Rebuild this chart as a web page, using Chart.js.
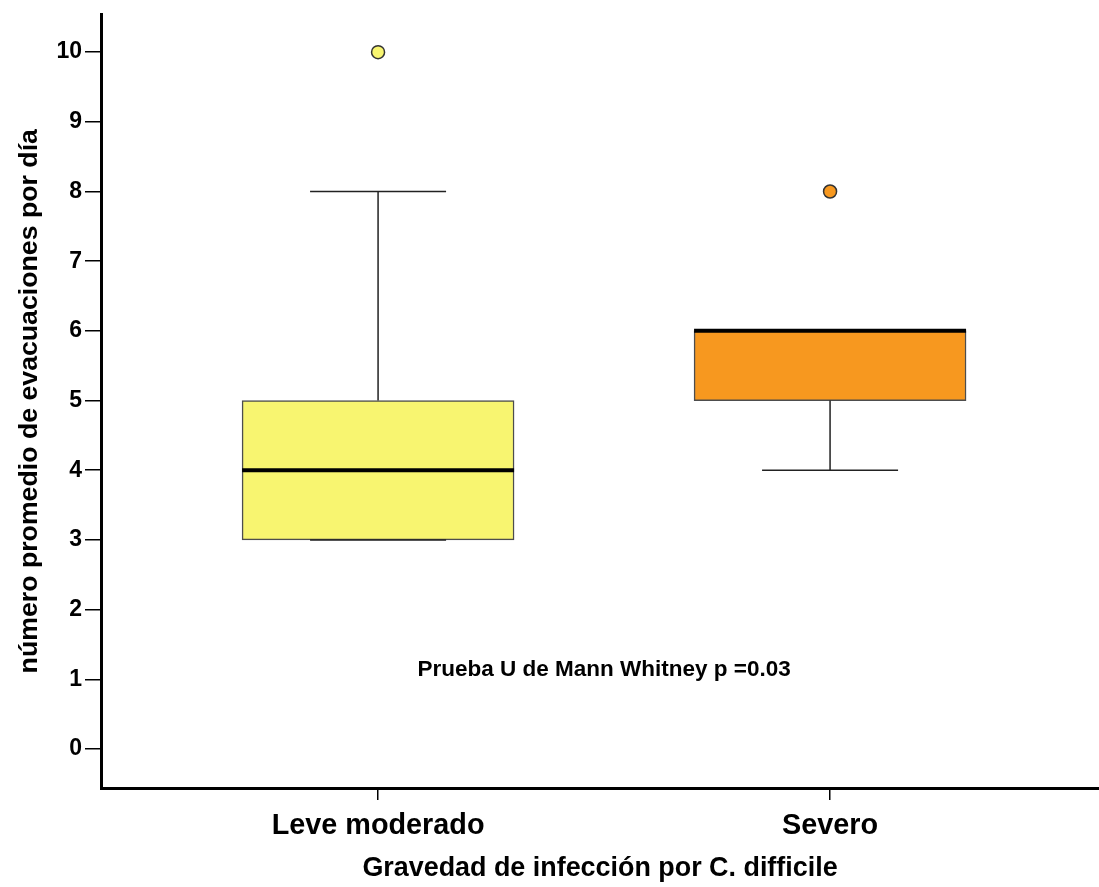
<!DOCTYPE html>
<html>
<head>
<meta charset="utf-8">
<script src="https://cdn.jsdelivr.net/npm/chart.js@4.4.1/dist/chart.umd.min.js"></script>
<style>
  html, body { margin: 0; padding: 0; background: #fff; }
  #wrap { width: 1099px; height: 887px; }
</style>
</head>
<body>
<div id="wrap"><canvas id="boxChart" width="1099" height="887"></canvas></div>
<script>
// categorias y resumen de cada caja
var categorias   = ['Leve moderado', 'Severo'];
var bigoteBajo   = [3, 4];
var q1           = [3, 5];
var mediana      = [4, 6];
var q3           = [5, 6];
var bigoteAlto   = [8, 6];
var atipicos     = [[10], [8]];
var colores      = ['#F8F570', '#F7981F'];
var yTicks       = [0, 1, 2, 3, 4, 5, 6, 7, 8, 9, 10];
var nota         = 'Prueba U de Mann Whitney p =0.03';
var notaPos      = [1.5, 1.13];

var cajas = categorias.map(function (c, i) { return { x: i + 1, y: [q1[i], q3[i]] }; });
var puntos = [];
var coloresPuntos = [];
atipicos.forEach(function (lista, i) {
  lista.forEach(function (v) {
    puntos.push({ x: i + 1, y: v });
    coloresPuntos.push(colores[i]);
  });
});

// bigotes, topes, medianas y nota
var bigotesPlugin = {
  id: 'bigotes',
  afterDatasetsDraw: function (chart) {
    var ctx = chart.ctx;
    var xs = chart.scales.x, ys = chart.scales.y;
    var meta = chart.getDatasetMeta(0);
    ctx.save();
    for (var i = 0; i < categorias.length; i++) {
      var bar = meta.data[i];
      var cx = xs.getPixelForValue(i + 1);
      var half = bar.width / 2;
      var cap = bar.width / 4;
      ctx.strokeStyle = '#222';
      ctx.lineWidth = 1.5;
      ctx.beginPath();
      if (bigoteAlto[i] > q3[i]) {
        ctx.moveTo(cx, ys.getPixelForValue(q3[i]));
        ctx.lineTo(cx, ys.getPixelForValue(bigoteAlto[i]));
        ctx.moveTo(cx - cap, ys.getPixelForValue(bigoteAlto[i]));
        ctx.lineTo(cx + cap, ys.getPixelForValue(bigoteAlto[i]));
      }
      if (bigoteBajo[i] < q1[i]) {
        ctx.moveTo(cx, ys.getPixelForValue(q1[i]));
        ctx.lineTo(cx, ys.getPixelForValue(bigoteBajo[i]));
      }
      ctx.moveTo(cx - cap, ys.getPixelForValue(bigoteBajo[i]));
      ctx.lineTo(cx + cap, ys.getPixelForValue(bigoteBajo[i]));
      ctx.stroke();

      ctx.strokeStyle = '#000';
      ctx.lineWidth = 4;
      ctx.beginPath();
      var my = ys.getPixelForValue(mediana[i]);
      ctx.moveTo(cx - half, my);
      ctx.lineTo(cx + half, my);
      ctx.stroke();
    }
    ctx.fillStyle = '#000';
    ctx.font = 'bold 22.5px "Liberation Sans", Arial, sans-serif';
    ctx.textAlign = 'center';
    ctx.textBaseline = 'middle';
    ctx.fillText(nota, xs.getPixelForValue(notaPos[0]), ys.getPixelForValue(notaPos[1]));
    ctx.restore();
  }
};

new Chart(document.getElementById('boxChart'), {
  type: 'bar',
  data: {
    datasets: [
      {
        type: 'bar',
        data: cajas,
        backgroundColor: colores,
        borderColor: '#4d4d4d',
        borderWidth: 1.5,
        borderSkipped: false,
        barThickness: 272,
        order: 2
      },
      {
        type: 'scatter',
        data: puntos,
        backgroundColor: coloresPuntos,
        borderColor: '#333',
        borderWidth: 1.5,
        pointRadius: 6.5,
        showLine: false,
        order: 1
      }
    ]
  },
  options: {
    responsive: false,
    animation: false,
    layout: { autoPadding: false, padding: { top: 12, right: 0, left: 0, bottom: 0 } },
    plugins: { legend: { display: false }, tooltip: { enabled: false } },
    scales: {
      x: {
        type: 'linear',
        min: 0.387,
        max: 2.595,
        offset: false,
        afterBuildTicks: function (s) { s.ticks = categorias.map(function (c, i) { return { value: i + 1 }; }); },
        afterFit: function (s) { s.height = 99; },
        grid: { drawOnChartArea: false, offset: false, tickLength: 12, color: '#000', lineWidth: 1.5 },
        border: { display: true, color: '#000', width: 3 },
        ticks: {
          color: '#000',
          padding: 9,
          maxRotation: 0,
          font: { family: '"Liberation Sans", Arial, sans-serif', size: 28.8, weight: 'bold' },
          callback: function (v) { return categorias[v - 1]; }
        },
        title: {
          display: true,
          text: 'Gravedad de infección por C. difficile',
          color: '#000',
          padding: { top: 0, bottom: 2 },
          font: { family: '"Liberation Sans", Arial, sans-serif', size: 26.9, weight: 'bold', lineHeight: 1.2 }
        }
      },
      y: {
        min: -0.56,
        max: 10.54,
        afterBuildTicks: function (s) { s.ticks = yTicks.map(function (v) { return { value: v }; }); },
        afterFit: function (s) { s.width = 101; },
        grid: { drawOnChartArea: false, tickLength: 16, color: '#000', lineWidth: 1.5 },
        border: { display: true, color: '#000', width: 3 },
        ticks: {
          color: '#000',
          padding: 3,
          font: { family: '"Liberation Sans", Arial, sans-serif', size: 23, weight: 'bold', lineHeight: 1.0 }
        },
        title: {
          display: true,
          text: 'número promedio de evacuaciones por día',
          color: '#000',
          padding: { top: 14, bottom: 0 },
          font: { family: '"Liberation Sans", Arial, sans-serif', size: 26.7, weight: 'bold', lineHeight: 1.2 }
        }
      }
    }
  },
  plugins: [bigotesPlugin]
});
</script>
</body>
</html>
